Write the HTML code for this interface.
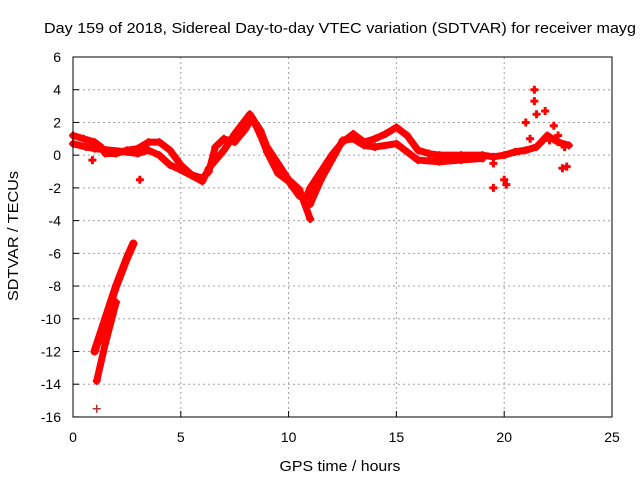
<!DOCTYPE html>
<html><head><meta charset="utf-8"><style>
body{margin:0;background:#fff;}
svg text{font-family:"Liberation Sans",sans-serif;font-size:14px;fill:#000;}
</style></head><body>
<svg id="chart" width="640" height="480" xmlns="http://www.w3.org/2000/svg">
<text x="44" y="33" style="font-size:15px" textLength="592" lengthAdjust="spacingAndGlyphs">Day 159 of 2018, Sidereal Day-to-day VTEC variation (SDTVAR) for receiver mayg</text>
<g id="grid"></g>
<g id="series"></g>
<rect x="73" y="57" width="539" height="360" fill="none" stroke="#000" stroke-width="1"/>
<g id="ticks"></g>
<text x="340" y="471" text-anchor="middle" style="font-size:15px" textLength="121" lengthAdjust="spacingAndGlyphs">GPS time / hours</text>
<text transform="translate(18,236) rotate(-90)" text-anchor="middle" style="font-size:15px" textLength="130" lengthAdjust="spacingAndGlyphs">SDTVAR / TECUs</text>
</svg>
<script>
const xTicks=[0,5,10,15,20,25];
const yTicks=[6,4,2,0,-2,-4,-6,-8,-10,-12,-14,-16];
const traceMain=[[0,1.2],[0.5,1.0],[1,0.8],[1.3,0.5],[1.5,0.1],[2,0.1],[2.5,0.3],[3,0.4],[3.5,0.8],[4,0.8],[4.5,0.3],[5,-0.6],[5.5,-1.2],[6,-1.4],[6.3,-1.0],[6.6,0.5],[7,1.0],[7.5,0.8],[8,1.6],[8.3,2.3],[8.7,1.2],[9,0.2],[9.5,-1.1],[10,-1.6],[10.5,-2.5],[10.8,-2.6],[11,-2.0],[11.5,-1.0],[12,0.0],[12.5,0.8],[13,1.3],[13.5,0.8],[14,1.0],[14.5,1.3],[15,1.7],[15.5,1.2],[16,0.3],[16.5,0.1],[17,0.0],[18,0.0],[19,0.0],[19.5,-0.1],[20,0.0],[20.5,0.2],[21,0.3],[21.5,0.5],[22,1.2],[22.5,0.8],[23,0.6]];
const traceLow=[[0,0.7],[0.6,0.5],[1,0.4],[2.5,0.2],[3,0.1],[3.5,0.3],[4,0.0],[4.5,-0.6],[5,-0.9],[6,-1.6],[6.3,-0.8],[7,0.3],[7.5,1.3],[8.2,2.5],[8.7,1.5],[9,0.5],[9.5,-0.5],[10,-1.5],[10.5,-2.1],[11,-3.9]];
const traceEve=[[11,-3.0],[11.5,-1.5],[12,-0.3],[12.5,0.9],[13,1.0],[13.5,0.6],[14,0.5],[15,0.7],[15.5,0.2],[16,-0.3],[17,-0.4],[18,-0.3],[19,-0.2]];
const traceSteepA=[[1.0,-12.0],[1.5,-10.0],[2.0,-8.0],[2.5,-6.3],[2.8,-5.4]];
const traceSteepB=[[1.1,-13.8],[1.5,-11.5],[2.0,-9.0]];
const traceSpikes=[[19.5,-2.0],[19.5,-0.5],[20,-1.5],[20.1,-1.8],[21,2.0],[21.4,4.0],[21.4,3.3],[21.5,2.5],[21.9,2.7],[22.3,1.8],[22.5,1.2],[22.8,0.5],[22.7,-0.8],[22.9,-0.7],[21.2,1.0],[22.1,0.9]];
const isolated=[[0.9,-0.3],[3.1,-1.5],[1.1,-15.5]];
const X=h=>73+h*21.56, Y=v=>57+(6-v)*16.36;
const NS="http://www.w3.org/2000/svg";
const mk=(t,a)=>{const e=document.createElementNS(NS,t);for(const k in a)e.setAttribute(k,a[k]);return e;};
const grid=document.getElementById('grid'),ticks=document.getElementById('ticks'),ser=document.getElementById('series');
xTicks.forEach(t=>{
 if(t>0&&t<25){const l=mk('line',{x1:X(t),x2:X(t),y1:57,y2:417,stroke:'#a0a0a0','stroke-dasharray':'2,3'});
 
 grid.appendChild(l);}
 const tk=mk('line',{x1:X(t),x2:X(t),y1:417,y2:411,stroke:'#000'});
 
 ticks.appendChild(tk);
 const tx=mk('text',{x:X(t),y:442,'text-anchor':'middle'});tx.textContent=t;
 
 ticks.appendChild(tx);
});
yTicks.forEach(t=>{
 if(t<6&&t>-16){const l=mk('line',{x1:73,x2:612,y1:Y(t),y2:Y(t),stroke:'#a0a0a0','stroke-dasharray':'2,3'});
 
 grid.appendChild(l);}
 const tk=mk('line',{x1:73,x2:79,y1:Y(t),y2:Y(t),stroke:'#000'});
 
 ticks.appendChild(tk);
 const tx=mk('text',{x:61,y:Y(t)+5,'text-anchor':'end'});tx.textContent=t;
 
 ticks.appendChild(tx);
});
function trace(pts,w,name){
 const p=mk('polyline',{points:pts.map(q=>X(q[0])+','+Y(q[1])).join(' '),fill:'none',stroke:'#ff0000','stroke-width':w,'stroke-linejoin':'round','stroke-linecap':'round'});
 
 ser.appendChild(p);
 pts.forEach(q=>plus(q,'#ff0000',2));
}
function plus(q,c,w){
 const g=mk('path',{d:`M${X(q[0])-4},${Y(q[1])}h8M${X(q[0])},${Y(q[1])-4}v8`,stroke:c,'stroke-width':w});
 
 ser.appendChild(g);
}
trace(traceMain,7,'trace-main');
trace(traceLow,7,'trace-low');
trace(traceEve,7,'trace-evening');
trace(traceSteepA,8,'trace-steep-a');
trace(traceSteepB,7,'trace-steep-b');
traceSpikes.forEach(q=>plus(q,'#ff0000',3));
isolated.forEach((q,i)=>plus(q,i==2?'#b03030':'#ff0000',i==2?1.5:3));
</script>
</body></html>
